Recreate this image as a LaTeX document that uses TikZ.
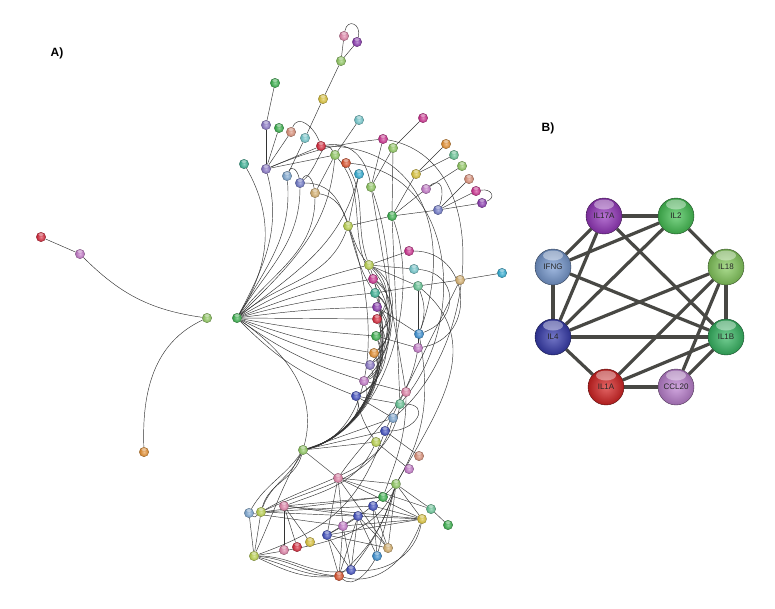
\documentclass[tikz,border=0pt]{standalone}
\usepackage{fontspec}
\setmainfont{Liberation Sans}
\setsansfont{Liberation Sans}
\usetikzlibrary{shadings}
\pgfdeclarelayer{bg}
\pgfsetlayers{bg,main}
\definecolor{cgreen}{RGB}{50,175,70}
\definecolor{clgreen}{RGB}{140,200,90}
\definecolor{cygreen}{RGB}{185,210,70}
\definecolor{cyellow}{RGB}{220,195,50}
\definecolor{ctan}{RGB}{215,175,105}
\definecolor{corange}{RGB}{230,140,40}
\definecolor{credor}{RGB}{220,75,35}
\definecolor{cred}{RGB}{215,30,50}
\definecolor{cmag}{RGB}{205,40,140}
\definecolor{cpink}{RGB}{225,125,165}
\definecolor{csalmon}{RGB}{220,140,115}
\definecolor{corchid}{RGB}{195,115,200}
\definecolor{cpurple}{RGB}{135,50,175}
\definecolor{clav}{RGB}{135,115,200}
\definecolor{cslate}{RGB}{105,115,200}
\definecolor{cblue}{RGB}{55,70,190}
\definecolor{cmblue}{RGB}{50,140,210}
\definecolor{clblue}{RGB}{120,165,210}
\definecolor{ccyan}{RGB}{40,170,210}
\definecolor{clcyan}{RGB}{110,200,205}
\definecolor{cteal}{RGB}{50,175,145}
\definecolor{ctgreen}{RGB}{95,195,145}
\definecolor{bpurple}{RGB}{150,55,190}
\definecolor{bgreen}{RGB}{70,195,85}
\definecolor{bsteel}{RGB}{120,155,210}
\definecolor{blgreen}{RGB}{135,205,95}
\definecolor{bnavy}{RGB}{55,60,175}
\definecolor{bteal}{RGB}{55,185,100}
\definecolor{bred}{RGB}{215,35,35}
\definecolor{blilac}{RGB}{190,130,210}
\definecolor{edgeB}{RGB}{72,72,68}
\tikzset{
  x=1pt, y=-1pt,
  ball/.style={circle, minimum size=9.5pt, inner sep=0pt, inner color=#1!55!white, outer color=#1!88!black, draw=#1!50!black, line width=0.2pt,
    path picture={\fill[white,opacity=0.45] ([yshift=-2.2pt]path picture bounding box.north) ellipse [x radius=2.6pt, y radius=1.4pt];}},
  e/.style={draw=black!80, line width=0.45pt},
  bigball/.style={circle, minimum size=36pt, inner sep=0pt, inner color=#1!70!white, outer color=#1!80!black, draw=#1!40!black, line width=0.4pt,
    font=\fontsize{8}{9}\selectfont\sffamily, text=black!85,
    path picture={\fill[white,opacity=0.4] ([yshift=-6.5pt]path picture bounding box.north) ellipse [x radius=10pt, y radius=5pt];}},
  eb/.style={draw=edgeB, line width=3.2pt},
  lab/.style={font=\fontsize{12}{14}\selectfont\sffamily\bfseries, inner sep=0pt}
}
\begin{document}
\begin{tikzpicture}
\useasboundingbox (0,0) rectangle (775,608);
\node[lab] (labA) at (57,53) {A)};
\node[lab] (labB) at (548,128) {B)};
% ---------- panel A nodes ----------
\foreach \n/\x/\y/\c in {
 t1/344/36/cpink, t2/357/42/cpurple, t3/341/61/clgreen, t4/323/99/cyellow,
 t5/275/83/cgreen, t6/266/125/clav, t7/279/128/cgreen, t8/291/132/csalmon,
 t9/305/138/clcyan, t10/359/120/clcyan, t11/423/118/cmag, t12/383/139/cmag,
 t13/393/148/clgreen, t14/321/146/cred, t15/335/155/clgreen, t16/346/163/credor,
 t17/359/174/ccyan, t18/244/164/cteal, t19/266/169/clav, t20/287/176/clblue,
 t21/300/183/cslate, t22/315/193/ctan, t23/371/187/clgreen, t24/446/144/corange,
 t25/454/155/ctgreen, t26/462/166/clgreen, t27/416/174/cyellow, t28/469/179/csalmon,
 t29/426/189/corchid, t30/476/191/cmag, t31/482/203/cpurple, t32/438/210/cslate,
 t33/392/216/cgreen, t34/348/226/cygreen,
 l1/41/237/cred, l2/80/254/corchid, l3/207/318/clgreen, hub/237/318/cgreen, l4/144/452/corange,
 m1/369/265/cygreen, m2/409/251/cmag, m3/414/269/clcyan, m4/418/286/ctgreen,
 m5/460/280/ctan, m6/502/273/ccyan, m7/373/279/cmag, m8/375/293/cteal,
 m9/377/307/cpurple, m10/377/319/cred, m11/376/336/cgreen, m12/374/353/corange,
 m13/370/365/clav, m14/364/381/corchid, m15/356/396/cblue, m16/419/334/cmblue,
 m17/418/348/corchid, m18/406/392/cpink, m19/400/404/ctgreen, m20/393/418/clblue,
 m21/385/431/cblue, m22/376/442/cygreen, m23/419/456/csalmon, m24/409/469/corchid,
 b0/303/450/clgreen,
 b1/338/478/cpink, b2/396/484/clgreen, b3/383/497/cgreen, b4/373/506/cblue,
 b5/431/509/ctgreen, b6/448/525/cgreen, b7/249/513/clblue, b8/261/512/cygreen,
 b9/284/506/cpink, b10/358/516/cblue, b11/343/526/corchid, b12/422/519/cyellow,
 b13/327/535/cblue, b14/284/550/cpink, b15/297/547/cred, b16/310/542/cyellow,
 b17/388/548/ctan, b18/377/556/cmblue, b19/254/556/cygreen, b20/351/570/cblue,
 b21/339/576/credor}
 { \node[ball=\c] (\n) at (\x,\y) {}; }
% ---------- panel A edges ----------
\begin{pgfonlayer}{bg}
% top
\draw[e] (t1) -- (t3);
\draw[e] (t2) -- (t3);
\draw[e] (t1) to[out=80,in=75,looseness=2.4] (t2);
\draw[e] (t3) -- (t4);
\draw[e] (t4) -- (t9);
\draw[e] (t5) -- (t6);
\draw[e] (t6) -- (t19);
\draw[e] (t7) -- (t19);
\draw[e] (t8) -- (t19);
\draw[e] (t19) -- (t14);
\draw[e] (t19) -- (t15);
\draw[e] (t19) to[bend left=8] (t12);
\draw[e] (t10) -- (t15);
\draw[e] (t15) -- (t22);
\draw[e] (t9) -- (t20);
\draw[e] (t20) to[out=70,in=100,looseness=1.6] (t21);
\draw[e] (t21) to[out=60,in=100,looseness=1.6] (t22);
\draw[e] (t8) to[out=70,in=110,looseness=1.3] (t14);
\draw[e] (t21) to[out=40,in=120,looseness=1.2] (t15);
\draw[e] (t14) to[out=10,in=100,looseness=1.1] (t23);
\draw[e] (t11) -- (t13);
\draw[e] (t12) -- (t23);
\draw[e] (t13) -- (t23);
\draw[e] (t13) -- (t33);
\draw[e] (t24) -- (t27);
\draw[e] (t25) -- (t27);
\draw[e] (t27) -- (t33);
\draw[e] (t26) -- (t29);
\draw[e] (t29) -- (t33);
\draw[e] (t28) -- (t32);
\draw[e] (t30) -- (t32);
\draw[e] (t31) -- (t32);
\draw[e] (t30) to[out=10,in=20,looseness=2.2] (t31);
\draw[e] (t29) to[out=40,in=70,looseness=1.8] (t32);
\draw[e] (t32) -- (t33);
\draw[e] (t33) -- (t34);
\draw[e] (t17) -- (t34);
\draw[e] (t16) to[out=-60,in=110] (m1);
\draw[e] (t15) to[out=-50,in=120] (m7);
\draw[e] (t22) to[out=-10,in=130] (m1);
\draw[e] (t21) to[out=0,in=125] (m8);
\draw[e] (t23) -- (m18);
\draw[e] (t33) -- (m19);
% hub to top
\foreach \n/\o/\i in {t18/58/-60, t19/62/-75, t20/60/-85, t21/58/-90, t22/52/-90, t34/40/-110, t17/38/-105, t15/45/-95}
  { \draw[e] (hub) to[out=\o,in=\i] (\n); }
% hub to middle column
\foreach \n/\b in {m1/8, m7/6, m8/5, m9/3, m10/0, m11/-3, m12/-5, m13/-7, m14/-9, m15/-12}
  { \draw[e] (hub) to[bend left=\b] (\n); }
\draw[e] (hub) to[out=-35,in=75] (b0);
% left
\draw[e] (l1) -- (l2);
\draw[e] (l2) to[out=-45,in=172] (l3);
\draw[e] (l3) to[out=205,in=92] (l4);
% b0 arc bundle
\foreach \n/\l in {m1/0.95, m7/0.92, m8/0.9, m9/0.88, m10/0.86, m11/0.84, m12/0.82, m13/0.8, m14/0.78, m15/0.72, t34/0.9, t33/0.85, t23/0.88}
  { \draw[e] (b0) to[out=14,in=-70,looseness=\l] (\n); }
% middle column arcs
\foreach \a/\b/\bb in {m1/m11/55, m7/m12/50, m8/m13/50, m9/m14/45, m10/m15/45, m1/m10/45, m7/m14/40, m8/m11/50, m9/m12/50, m11/m15/45, m12/m14/50, m1/m13/40, m7/m10/55}
  { \draw[e] (\a) to[bend left=\bb] (\b); }
% right side
\draw[e] (m1) -- (m2);
\draw[e] (m1) -- (m3);
\draw[e] (m1) -- (m4);
\draw[e] (m4) -- (m5);
\draw[e] (m5) -- (m6);
\draw[e] (m5) -- (m21);
\draw[e] (m4) to[bend left=20] (m16);
\draw[e] (m4) -- (m17);
\draw[e] (m8) -- (m4);
\draw[e] (m9) -- (m16);
\draw[e] (m11) -- (m17);
\draw[e] (m2) to[out=0,in=10,looseness=1.5] (m17);
\draw[e] (m3) to[out=-5,in=20,looseness=1.6] (m16);
\draw[e] (t14) to[out=0,in=70,looseness=1.2] (m16);
\draw[e] (t16) to[out=-5,in=50,looseness=1.1] (m19);
\draw[e] (t12) to[out=-10,in=40,looseness=1.0] (m20);
\draw[e] (m15) -- (m19);
\draw[e] (m15) -- (m20);
\draw[e] (m15) to[bend right=10] (m22);
\draw[e] (m14) -- (m18);
\draw[e] (m19) to[out=0,in=0,looseness=2.2] (m21);
\draw[e] (m21) -- (m23);
\draw[e] (m22) -- (m24);
\draw[e] (b0) -- (m22);
\draw[e] (b0) -- (m21);
\draw[e] (b0) -- (m20);
\draw[e] (m17) to[out=-100,in=55] (b1);
\draw[e] (m16) to[out=-80,in=60] (b2);
\draw[e] (m18) to[out=-90,in=70] (b3);
\draw[e] (m4) to[out=-40,in=60,looseness=1.1] (b2);
% bottom
\draw[e] (b0) -- (b1);
\draw[e] (b0) to[out=-125,in=60] (b7);
\draw[e] (b0) to[out=-115,in=70] (b8);
\draw[e] (b0) to[out=-120,in=65] (b19);
\draw[e] (b0) to[out=-105,in=75] (b8);
\draw[e] (b1) -- (b11);
\draw[e] (b1) -- (b13);
\draw[e] (b1) -- (b2);
\draw[e] (b1) -- (b12);
\draw[e] (b1) -- (b17);
\draw[e] (b1) -- (b5);
\draw[e] (b9) -- (b14);
\draw[e] (b9) -- (b15);
\draw[e] (b9) -- (b16);
\draw[e] (b9) -- (b12);
\draw[e] (b9) -- (b10);
\draw[e] (b9) -- (b3);
\draw[e] (b7) -- (b19);
\draw[e] (b8) -- (b19);
\draw[e] (b7) to[out=-40,in=-140,looseness=1.5] (b8);
\draw[e] (b8) -- (b12);
\draw[e] (b7) -- (b11);
\draw[e] (b19) to[out=-15,in=180] (b21);
\draw[e] (b19) to[out=-5,in=175] (b21);
\draw[e] (b19) to[out=-25,in=185] (b21);
\draw[e] (b19) to[out=0,in=190] (b20);
\draw[e] (b2) -- (b12);
\draw[e] (b2) -- (b17);
\draw[e] (b2) -- (b18);
\draw[e] (b2) to[bend left=10] (b20);
\draw[e] (b2) to[bend left=8] (b13);
\draw[e] (b2) to[out=-110,in=10,looseness=0.9] (b19);
\draw[e] (b2) -- (b5);
\draw[e] (b5) -- (b6);
\draw[e] (b2) to[bend left=15] (b21);
\draw[e] (b4) -- (b18);
\draw[e] (b4) -- (b12);
\draw[e] (b4) -- (b17);
\draw[e] (b4) -- (b8);
\draw[e] (b10) -- (b18);
\draw[e] (b10) -- (b17);
\draw[e] (b10) -- (b20);
\draw[e] (b10) -- (b21);
\draw[e] (b10) -- (b13);
\draw[e] (b11) -- (b21);
\draw[e] (b11) -- (b20);
\draw[e] (b11) -- (b12);
\draw[e] (b13) -- (b21);
\draw[e] (b13) -- (b20);
\draw[e] (b13) -- (b12);
\draw[e] (b13) -- (b17);
\draw[e] (b3) -- (b8);
\draw[e] (b12) to[out=-100,in=-5] (b20);
\draw[e] (b12) to[out=-110,in=-15] (b21);
\draw[e] (b21) to[out=-40,in=-120] (b18);
\draw[e] (b9) to[out=20,in=-115] (m22);
\draw[e] (b8) to[out=25,in=-105] (m20);
\draw[e] (b19) to[out=20,in=-110,looseness=1.1] (m21);
\draw[e] (b8) to[out=30,in=-100] (m19);
\end{pgfonlayer}
% ---------- panel B ----------
\foreach \n/\x/\y/\c in {IL17A/604/216/bpurple, IL2/676/216/bgreen, IFNG/553/267/bsteel, IL18/726/267/blgreen,
  IL4/553/337/bnavy, IL1B/726/337/bteal, IL1A/606/387/bred, CCL20/676/387/blilac}
  { \node[bigball=\c] (\n) at (\x,\y) {\n}; }
\begin{pgfonlayer}{bg}
\foreach \a/\b in {IL17A/IL2, IL2/IL18, IL18/IL1B, IL1B/CCL20, CCL20/IL1A, IL1A/IL4, IL4/IFNG, IFNG/IL17A,
  IFNG/IL2, IL17A/IL4, IL17A/IL1B, IL2/IL4, IFNG/IL1B, IL4/IL18, IL4/IL1B, IL1A/IL18, IL1A/IL1B, CCL20/IL18}
  { \draw[eb] (\a) -- (\b); }
\end{pgfonlayer}
\end{tikzpicture}
\end{document}
